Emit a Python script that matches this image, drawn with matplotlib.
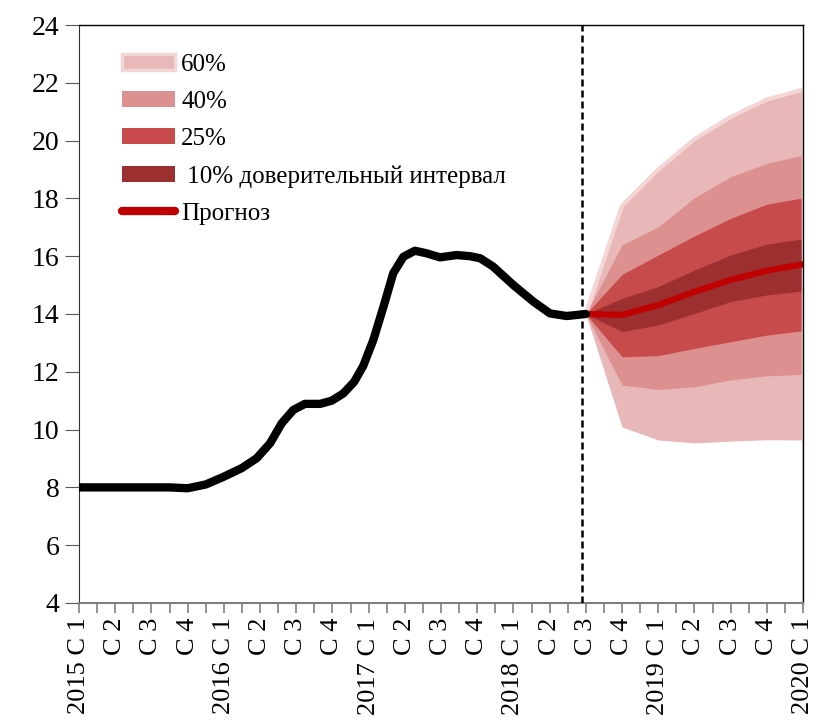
import matplotlib.pyplot as plt
from matplotlib.patches import Patch
from matplotlib.lines import Line2D
from matplotlib.ticker import MultipleLocator

plt.rcParams['font.family'] = ['Liberation Serif', 'DejaVu Serif']

# quarters 2015 C1 .. 2020 C1
years = ['2015', '2016', '2017', '2018', '2019', '2020']
tick_labels = []
for y in years:
    for q in range(1, 5):
        tick_labels.append(f"{y} C {q}" if q == 1 else f"C {q}")
tick_labels = tick_labels[:21]

# history (x in quarters from 2015 C1)
hist_x = [0, 1, 2, 2.5, 3, 3.5, 4, 4.5, 4.91, 5.28, 5.6, 5.92, 6.24, 6.66, 6.98,
          7.3, 7.6, 7.85, 8.13, 8.41, 8.68, 8.96, 9.28, 9.6, 9.97, 10.43, 10.8,
          11.08, 11.44, 12.0, 12.55, 13.01, 13.47, 14.0]
hist_y = [8.0, 8.0, 8.0, 8.0, 7.97, 8.1, 8.37, 8.67, 9.01, 9.53, 10.22, 10.68,
          10.89, 10.89, 11.0, 11.25, 11.65, 12.2, 13.1, 14.25, 15.41, 15.98,
          16.19, 16.1, 15.96, 16.04, 16.0, 15.93, 15.64, 15.0, 14.43, 14.02,
          13.93, 14.0]

# forecast, quarterly (2018 C3 .. 2020 C1)
fc_x = [14, 15, 16, 17, 18, 19, 20]
forecast = [14.0, 13.97, 14.31, 14.77, 15.18, 15.5, 15.72]
hi60 = [14.0, 17.75, 19.0, 20.05, 20.82, 21.42, 21.77]
lo60 = [14.0, 10.09, 9.64, 9.54, 9.6, 9.65, 9.64]
hi40 = [14.0, 16.39, 17.02, 18.02, 18.75, 19.21, 19.5]
lo40 = [14.0, 11.54, 11.39, 11.48, 11.72, 11.86, 11.91]
hi25 = [14.0, 15.37, 16.04, 16.7, 17.31, 17.8, 18.02]
lo25 = [14.0, 12.52, 12.56, 12.81, 13.04, 13.27, 13.42]
hi10 = [14.0, 14.54, 14.95, 15.52, 16.04, 16.42, 16.6]
lo10 = [14.0, 13.39, 13.62, 14.02, 14.43, 14.66, 14.8]

c60, c40, c25, c10 = '#e8b7b7', '#dd9090', '#c84b4b', '#9c2f30'
c_edge = '#f4d6d6'
c_fc = '#c00000'

fig = plt.figure(figsize=(8.17, 7.23), dpi=100)
ax = fig.add_axes([0.0967, 0.166, 0.8862, 0.7994])

ax.fill_between(fc_x, lo60, hi60, color=c60, lw=0)
ax.plot(fc_x, hi60, color=c_edge, lw=3, solid_joinstyle='round')
ax.plot([20, 20], [4, 21.77], color=c_edge, lw=2.5)
ax.fill_between(fc_x, lo40, hi40, color=c40, lw=0)
ax.fill_between(fc_x, lo25, hi25, color=c25, lw=0)
ax.fill_between(fc_x, lo10, hi10, color=c10, lw=0)
ax.plot(fc_x, forecast, color=c_fc, lw=4.5, solid_capstyle='round',
        solid_joinstyle='round')
ax.plot(hist_x, hist_y, color='black', lw=6, solid_capstyle='round',
        solid_joinstyle='round', zorder=5)
ax.axvline(13.9, color='black', lw=1.8, ls=(0, (2.8, 1.6)), zorder=6)

ax.set_xlim(0, 20)
ax.set_ylim(4, 24)
ax.set_xticks(range(21))
ax.set_xticklabels(tick_labels, rotation=90, fontsize=19)
ax.xaxis.set_minor_locator(MultipleLocator(0.5))
ax.tick_params(axis='x', which='both', length=7, color='#808080', width=1.2)
ax.set_yticks(range(4, 25, 2))
ax.tick_params(axis='y', labelsize=20, length=10, color='#555555', pad=4)

ax.spines['bottom'].set_color('#808080')
ax.spines['bottom'].set_linewidth(1.5)
ax.spines['left'].set_color('#333333')
for s in ('top', 'right'):
    ax.spines[s].set_color('black')
    ax.spines[s].set_linewidth(1)

handles = [
    Patch(facecolor=c60, edgecolor=c_edge, lw=2.5),
    Patch(facecolor=c40, lw=0),
    Patch(facecolor=c25, lw=0),
    Patch(facecolor=c10, lw=0),
    Line2D([], [], color=c_fc, lw=6, solid_capstyle='round'),
]
labels = ['60%', '40%', '25%', ' 10% доверительный интервал', 'Прогноз']
ax.legend(handles, labels, loc='upper left', bbox_to_anchor=(0.046, 0.967),
          frameon=False, fontsize=18, handlelength=2.1, handleheight=0.6,
          handletextpad=0.25, labelspacing=0.6, borderaxespad=0)

fig.savefig('out.png', dpi=100)
